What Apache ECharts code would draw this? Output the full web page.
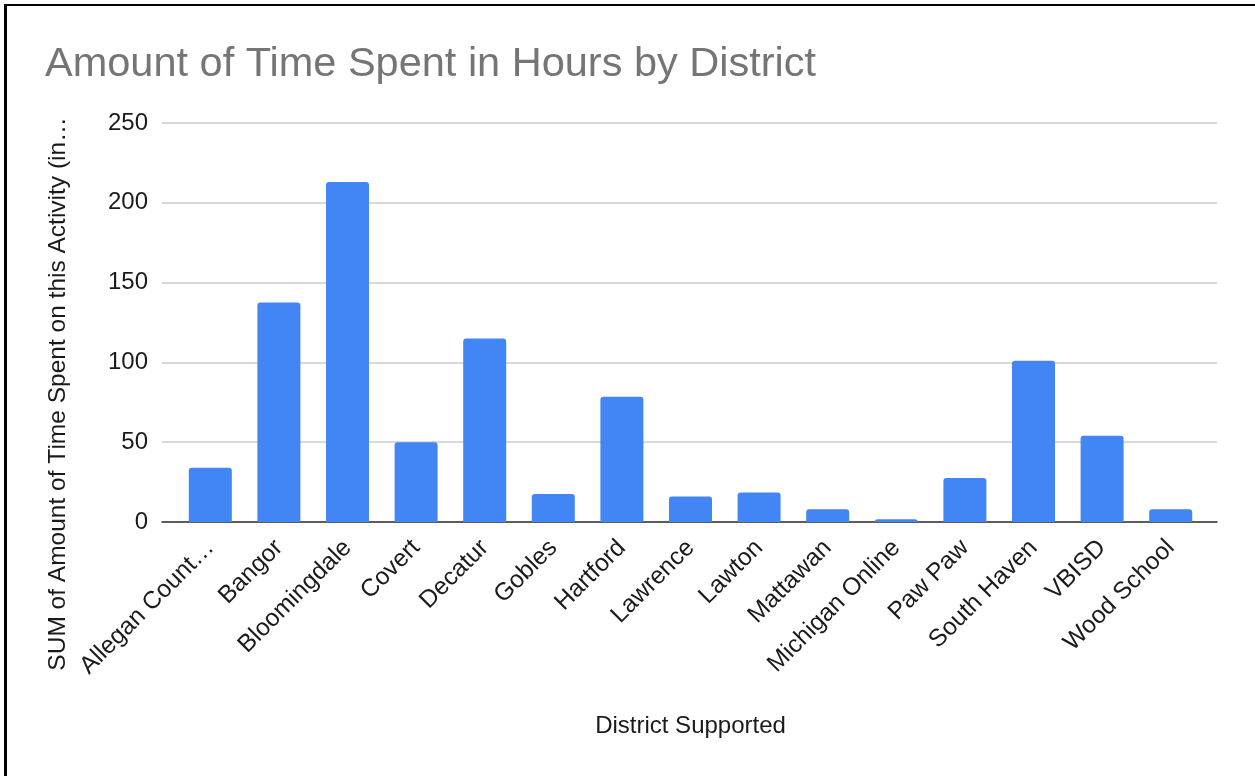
<!DOCTYPE html>
<html>
<head>
<meta charset="utf-8">
<script src="https://cdn.jsdelivr.net/npm/echarts@6/dist/echarts.min.js"></script>
<style>
html,body{margin:0;padding:0;background:#fff;}
#chart{width:1255px;height:776px;}
</style>
</head>
<body>
<div id="chart"></div>
<script>
var categories = ["Allegan Count…","Bangor","Bloomingdale","Covert","Decatur","Gobles","Hartford","Lawrence","Lawton","Mattawan","Michigan Online","Paw Paw","South Haven","VBISD","Wood School"];
var hours = [34, 137.5, 213, 50, 115, 17.5, 78.5, 16, 18.5, 8, 1.8, 27.5, 101, 54, 8];
var yTicks = [0, 50, 100, 150, 200, 250];

var FONT = "'Liberation Sans', Arial, Helvetica, sans-serif";
var chart = echarts.init(document.getElementById('chart'));
chart.setOption({
  animation: false,
  backgroundColor: '#fff',
  title: {
    text: 'Amount of Time Spent in Hours by District',
    left: 45, top: 44, padding: 0,
    textStyle: {fontFamily: FONT, fontSize: 41.5, fontWeight: 'normal', color: '#757575'}
  },
  grid: [
    {left: 162, right: 38, top: 123, bottom: 254},
    {left: 176, right: 50, top: 123, bottom: 254}
  ],
  xAxis: [
    {type: 'value', gridIndex: 0, min: 0, max: 1, axisLabel: {show: false}, splitLine: {show: false}, axisTick: {show: false},
     axisLine: {show: true, onZero: false, lineStyle: {color: '#333', width: 1.5}}},
    {type: 'category', gridIndex: 1, data: categories, axisLine: {show: false}, axisTick: {show: false},
     axisLabel: {rotate: 45, margin: 22, interval: 0, fontFamily: FONT, fontSize: 24.5, color: '#1a1a1a'},
     name: 'District Supported', nameLocation: 'middle', nameGap: 192,
     nameTextStyle: {fontFamily: FONT, fontSize: 24, color: '#1a1a1a'}}
  ],
  yAxis: [
    {type: 'value', gridIndex: 0, min: yTicks[0], max: yTicks[yTicks.length-1], interval: 50,
     axisLine: {show: false}, axisTick: {show: false},
     axisLabel: {margin: 14, fontFamily: FONT, fontSize: 24, color: '#1a1a1a'},
     splitLine: {lineStyle: {color: '#cccccc', width: 1.5}}},
    {type: 'value', gridIndex: 1, min: 0, max: 250, interval: 50, show: false, splitLine: {show: false}}
  ],
  series: [{
    type: 'bar', xAxisIndex: 1, yAxisIndex: 1, data: hours, barWidth: 43,
    itemStyle: {color: '#4285F4', borderRadius: [3, 3, 0, 0]}
  }],
  graphic: [
    {type: 'text', x: 58, y: 394, rotation: Math.PI/2, silent: true,
     style: {text: 'SUM of Amount of Time Spent on this Activity (in…', fontFamily: FONT, fontSize: 24.5, fill: '#1a1a1a', align: 'center', verticalAlign: 'middle'}},
    {type: 'rect', shape: {x: 4, y: 4, width: 1300, height: 2}, style: {fill: '#000'}, silent: true},
    {type: 'rect', shape: {x: 4, y: 4, width: 3, height: 800}, style: {fill: '#000'}, silent: true}
  ]
});
</script>
</body>
</html>
